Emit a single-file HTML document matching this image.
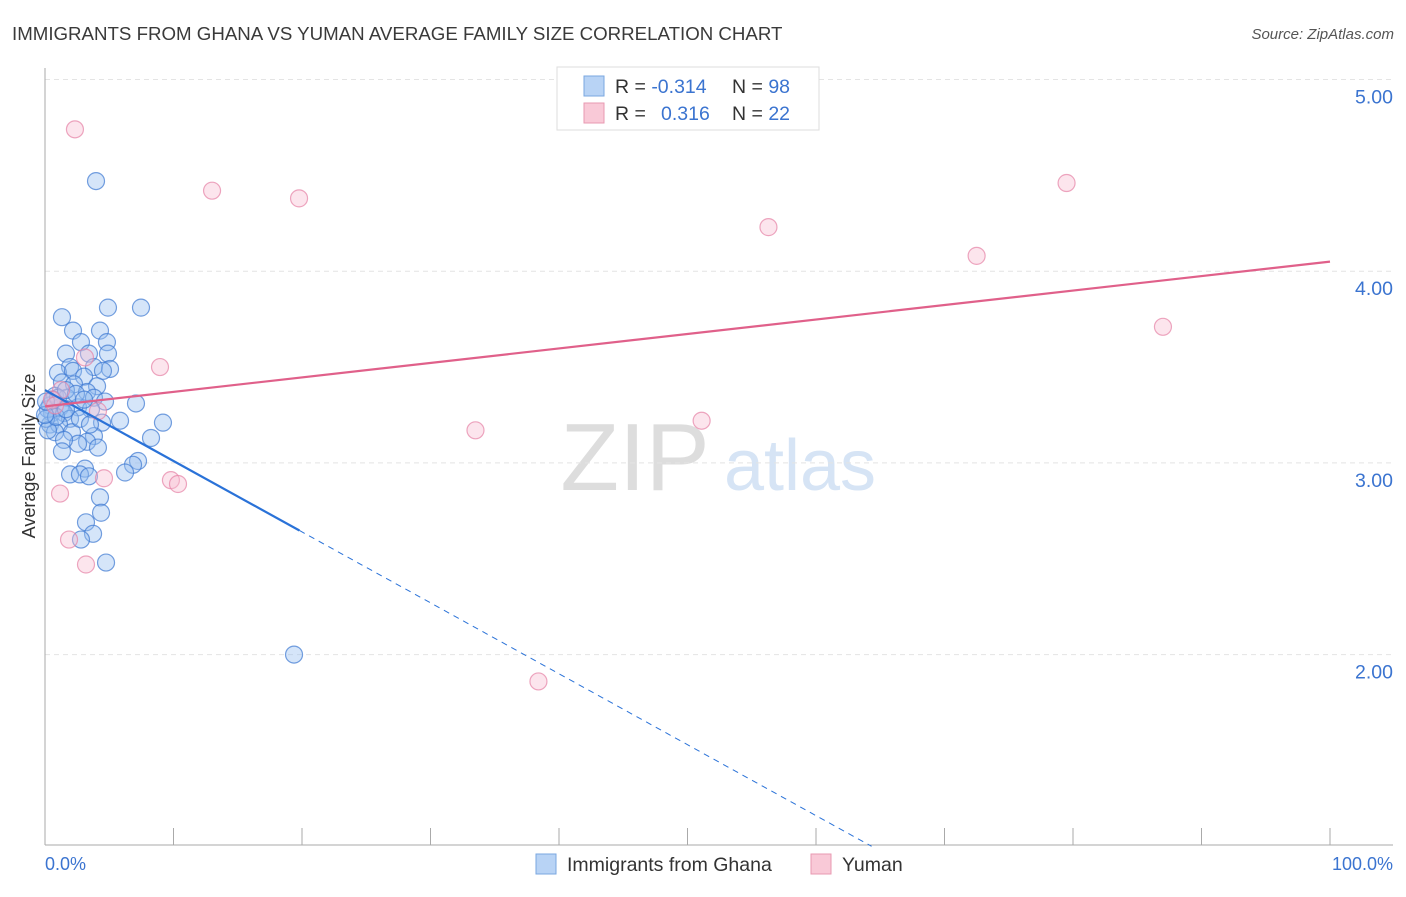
<!DOCTYPE html>
<html><head><meta charset="utf-8"><style>
body{margin:0;background:#fff;font-family:"Liberation Sans",sans-serif}
svg text{font-family:"Liberation Sans",sans-serif}
</style></head><body>
<svg width="1406" height="892" viewBox="0 0 1406 892">
<text x="12" y="40" font-size="18.7" fill="#3a3a3a">IMMIGRANTS FROM GHANA VS YUMAN AVERAGE FAMILY SIZE CORRELATION CHART</text>
<text x="1394" y="39" font-size="15" fill="#555" font-style="italic" text-anchor="end">Source: ZipAtlas.com</text>
<g>
<text x="635" y="490" font-size="96" fill="#ddd" text-anchor="middle" font-family="Liberation Serif">ZIP</text>
<text x="800" y="490" font-size="72" fill="#d6e4f5" text-anchor="middle">atlas</text>
</g>
<g id="grid"></g><g id="axes"></g><g id="pts"></g><g id="lines"></g>
<text x="35" y="456" font-size="18" fill="#333" text-anchor="middle" transform="rotate(-90 35 456)">Average Family Size</text>
<text x="45" y="870" font-size="18" fill="#3b74d0">0.0%</text>
<text x="1393" y="870" font-size="18" fill="#3b74d0" text-anchor="end">100.0%</text>
<g>
<rect x="557" y="67" width="262" height="63" fill="#fff" stroke="#ddd"/>
<rect x="584" y="76" width="20" height="20" fill="#b8d3f5" stroke="#7aa7e0"/>
<rect x="584" y="103" width="20" height="20" fill="#f9c9d7" stroke="#e899b2"/>
<text x="615" y="93" font-size="19.5" fill="#333">R = <tspan fill="#3b74d0">-0.314</tspan><tspan x="732">N = </tspan><tspan fill="#3b74d0">98</tspan></text>
<text x="615" y="120" font-size="19.5" fill="#333">R = <tspan x="661" fill="#3b74d0">0.316</tspan><tspan x="732">N = </tspan><tspan fill="#3b74d0">22</tspan></text>
</g>
<g>
<rect x="536" y="854" width="20" height="20" fill="#b8d3f5" stroke="#7aa7e0"/>
<text x="567" y="871" font-size="19.5" fill="#333">Immigrants from Ghana</text>
<rect x="811" y="854" width="20" height="20" fill="#f9c9d7" stroke="#e899b2"/>
<text x="842" y="871" font-size="19.5" fill="#333">Yuman</text>
</g>
</svg>
<script>
const yTicks=[2,3,4,5];
const yTickLabels=["2.00","3.00","4.00","5.00"];
const xTicks=[0,10,20,30,40,50,60,70,80,90,100];
const ghanaX=[3.97,1.32,4.90,7.47,2.18,4.28,2.80,4.82,1.63,3.42,4.90,1.95,3.81,5.06,1.01,2.18,4.51,3.04,1.32,2.26,4.05,3.27,0.78,1.71,3.81,4.67,7.08,0.39,1.17,2.57,3.58,0.54,1.48,1.95,5.84,9.18,0.39,1.09,4.44,0.78,2.10,3.81,8.25,3.27,2.57,1.48,4.12,1.32,7.24,6.85,3.11,6.23,1.95,2.72,3.42,4.28,4.36,3.19,3.74,2.80,4.75,19.38,0.23,0.08,0.62,1.01,1.63,2.41,3.04,0.23,0.86,1.63,2.72,3.50,0,0.08];
const ghanaY=[4.47,3.76,3.81,3.81,3.69,3.69,3.63,3.63,3.57,3.57,3.57,3.50,3.50,3.49,3.47,3.48,3.48,3.45,3.42,3.41,3.40,3.37,3.35,3.34,3.34,3.32,3.31,3.30,3.29,3.29,3.28,3.26,3.26,3.23,3.22,3.21,3.20,3.20,3.21,3.16,3.16,3.14,3.13,3.11,3.10,3.12,3.08,3.06,3.01,2.99,2.97,2.95,2.94,2.94,2.93,2.82,2.74,2.69,2.63,2.60,2.48,2.00,3.28,3.23,3.33,3.34,3.38,3.36,3.33,3.17,3.24,3.28,3.23,3.20,3.25,3.32];
const yumanX=[2.33,13.0,19.77,56.3,79.5,72.5,87.0,8.95,3.11,1.25,4.12,0.54,33.5,51.1,9.8,10.35,4.59,1.17,1.87,3.19,38.4,0.78];
const yumanY=[4.74,4.42,4.38,4.23,4.46,4.08,3.71,3.50,3.55,3.38,3.27,3.33,3.17,3.22,2.91,2.89,2.92,2.84,2.60,2.47,1.86,3.30];
const ghanaTrend=[3.38,-0.037]; // intercept, slope per %
const yumanTrend=[3.295,0.00755];
const X=v=>45+v*12.85, Y=v=>79.5+(5-v)*191.7;
const NS="http://www.w3.org/2000/svg";
function mk(t,a,p){const e=document.createElementNS(NS,t);for(const k in a)e.setAttribute(k,a[k]);document.getElementById(p).appendChild(e);return e;}
yTicks.forEach((v,i)=>{
 const l=mk('line',{x1:45,x2:1393,y1:Y(v),y2:Y(v),stroke:'#e4e4e4','stroke-dasharray':'5,4'},'grid');
 
 
 const t=mk('text',{x:1393,y:Y(v)+24,'font-size':19.5,fill:'#3b74d0','text-anchor':'end'},'grid');
 t.textContent=yTickLabels[i];
 
 
});
let a=mk('line',{x1:45,x2:45,y1:68,y2:845,stroke:'#aaa'},'axes');


a=mk('line',{x1:45,x2:1393,y1:845,y2:845,stroke:'#aaa'},'axes');


xTicks.forEach(v=>{const t=mk('line',{x1:X(v),x2:X(v),y1:828,y2:845,stroke:'#aaa'},'axes');
 
 });
ghanaX.forEach((v,i)=>{const c=mk('circle',{cx:X(v),cy:Y(ghanaY[i]),r:8.5,fill:'rgba(150,190,240,0.4)',stroke:'rgba(60,120,210,0.7)','stroke-width':1.2},'pts');
 
 });
yumanX.forEach((v,i)=>{const c=mk('circle',{cx:X(v),cy:Y(yumanY[i]),r:8.5,fill:'rgba(248,190,210,0.4)',stroke:'rgba(230,130,165,0.7)','stroke-width':1.2},'pts');
 
 });
const gy=x=>ghanaTrend[0]+ghanaTrend[1]*x;
let tl=mk('line',{x1:X(0),y1:Y(gy(0)),x2:X(19.8),y2:Y(gy(19.8)),stroke:'#2a72d8','stroke-width':2.2},'lines');


const xe=(1.0-ghanaTrend[0])/ghanaTrend[1];
tl=mk('line',{x1:X(19.8),y1:Y(gy(19.8)),x2:X(xe),y2:Y(gy(xe)),stroke:'#2a72d8','stroke-width':1,'stroke-dasharray':'6,5'},'lines');


const yy=x=>yumanTrend[0]+yumanTrend[1]*x;
tl=mk('line',{x1:X(0),y1:Y(yy(0)),x2:X(100),y2:Y(yy(100)),stroke:'#e0608a','stroke-width':2.2},'lines');


</script>
</body></html>
